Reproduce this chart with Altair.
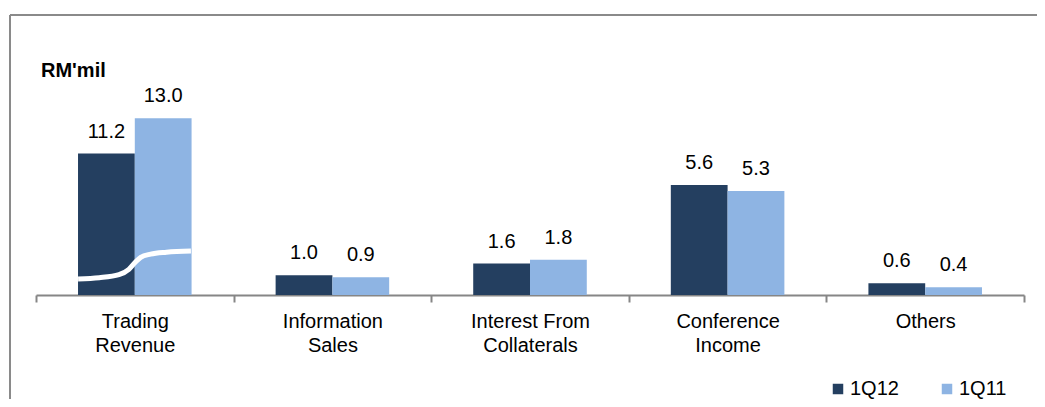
import altair as alt
import pandas as pd

# ---- data ----
categories = ["Trading\nRevenue", "Information\nSales", "Interest From\nCollaterals",
              "Conference\nIncome", "Others"]
series = ["1Q12", "1Q11"]
values_1q12 = [11.2, 1.0, 1.6, 5.6, 0.6]
values_1q11 = [13.0, 0.9, 1.8, 5.3, 0.4]
broken_category = "Trading\nRevenue"
break_amount = 4.0  # units removed from the broken (axis-break) category
unit_label = "RM'mil"

# shape of the white axis-break curve inside the broken category band
curve_frac = [0.213, 0.32, 0.42, 0.47, 0.50, 0.53, 0.58, 0.66, 0.784]
curve_val = [0.82, 0.88, 1.04, 1.31, 1.64, 1.92, 2.08, 2.18, 2.24]

DARK = "#243F60"
LIGHT = "#8EB4E3"
FONT = "Liberation Sans"

rows = []
for c, a, b in zip(categories, values_1q12, values_1q11):
    rows.append({"category": c, "series": series[0], "value": a, "broken": c == broken_category})
    rows.append({"category": c, "series": series[1], "value": b, "broken": c == broken_category})
df = pd.DataFrame(rows)

curve_df = pd.DataFrame({"category": [broken_category] * len(curve_frac),
                         "frac": curve_frac, "val": curve_val})

x_enc = alt.X("category:N", sort=categories,
              scale=alt.Scale(paddingInner=0, paddingOuter=0),
              axis=alt.Axis(title=None, labelAngle=0, tickBand="extent",
                            labelExpr="split(datum.label, '\\n')",
                            labelFontSize=20, labelFont=FONT, labelColor="black",
                            labelLineHeight=24, labelPadding=9,
                            domainColor="#868686", domainWidth=2,
                            tickColor="#868686", tickWidth=2, tickSize=7,
                            grid=False))
xoff_enc = alt.XOffset("series:N", sort=series,
                       scale=alt.Scale(type="band", paddingOuter=0.74, paddingInner=0))
y_scale = alt.Scale(domain=[0, 11], nice=False)

base = alt.Chart(df).transform_calculate(
    disp=f"datum.broken ? datum.value - {break_amount} : datum.value"
)

bars = base.mark_bar().encode(
    x=x_enc,
    xOffset=xoff_enc,
    y=alt.Y("disp:Q", scale=y_scale, axis=None),
    color=alt.Color("series:N", sort=series,
                    scale=alt.Scale(domain=series, range=[DARK, LIGHT]),
                    legend=alt.Legend(title=None, orient="none", legendX=792, legendY=300,
                                      direction="horizontal", symbolType="square",
                                      symbolSize=110, symbolStrokeWidth=0,
                                      labelFontSize=20, labelFont=FONT, labelColor="black",
                                      columnPadding=38, labelOffset=2, padding=0)),
)

labels = base.mark_text(baseline="alphabetic", dy=-16, fontSize=20, font=FONT,
                        color="black").encode(
    x=x_enc,
    xOffset=xoff_enc,
    y=alt.Y("disp:Q", scale=y_scale, axis=None),
    text=alt.Text("value:Q", format=".1f"),
)

curve = alt.Chart(curve_df).mark_line(color="white", strokeWidth=5,
                                      interpolate="monotone").encode(
    x=alt.X("category:N", sort=categories),
    xOffset=alt.XOffset("frac:Q", scale=alt.Scale(domain=[0, 1])),
    y=alt.Y("val:Q", scale=y_scale, axis=None),
)

one = pd.DataFrame({"k": [0]})
frame_left = alt.Chart(one).mark_rule(color="#8A8A8A", strokeWidth=2).encode(
    x=alt.value(-26), y=alt.value(-64), y2=alt.value(400))
frame_top = alt.Chart(one).mark_rule(color="#8A8A8A", strokeWidth=2).encode(
    x=alt.value(-26), x2=alt.value(1100), y=alt.value(-64))
unit_text = alt.Chart(one).mark_text(align="left", baseline="alphabetic", fontSize=20,
                                     fontWeight="bold", font=FONT, color="black").encode(
    x=alt.value(5), y=alt.value(-2), text=alt.value(unit_label))

chart = alt.layer(bars, labels, curve, frame_left, frame_top, unit_text).resolve_scale(
    xOffset="independent"
).properties(
    width=988, height=216,
    autosize=alt.AutoSizeParams(type="none"),
    padding={"left": 28, "top": 71, "right": 13, "bottom": 104},
).configure_view(stroke=None)

chart.save("out.html", embed_options={"renderer": "svg", "actions": False})
